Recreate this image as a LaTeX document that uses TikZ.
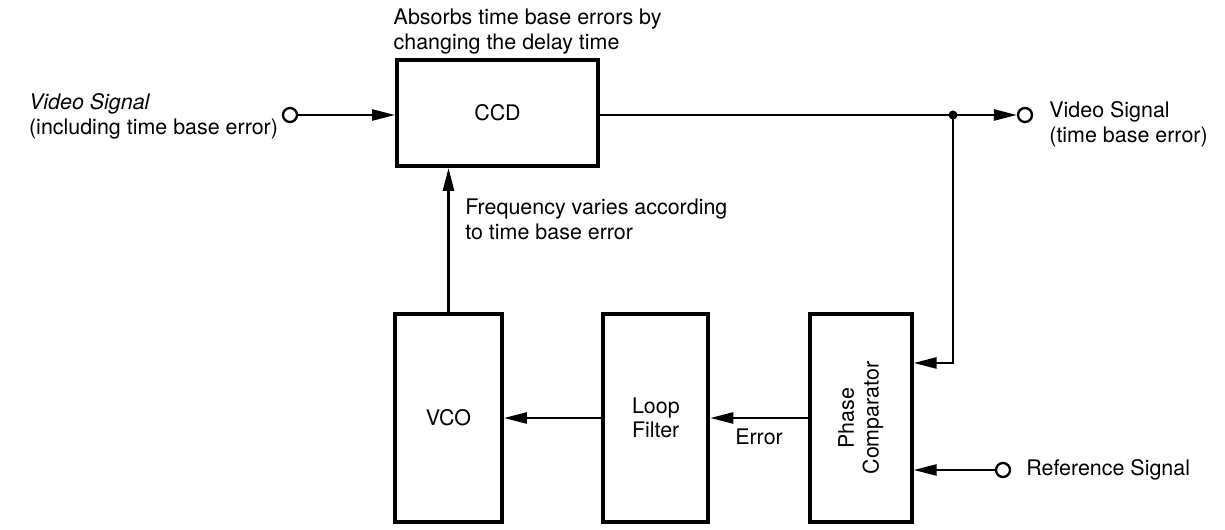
\documentclass[tikz,border=0pt]{standalone}
\usepackage{fontspec}
\setmainfont{TeX Gyre Heros}
\usepackage{tikz}
\usetikzlibrary{arrows.meta,positioning}

\begin{document}
\begin{tikzpicture}[
node distance=8mm and 1.95cm,
every node/.style={font=\fontsize{12.2}{14}\selectfont},
box/.style={draw, line width=2.2pt, minimum width=2.1cm, minimum height=4.16cm, inner sep=0pt},
port/.style={draw, circle, line width=1.3pt, minimum size=0.28cm, inner sep=0pt},
arrow/.style={-{Triangle[length=4.6mm, width=2.2mm]}, line width=1.4pt},
wire/.style={line width=1.4pt}
]
\useasboundingbox (0,0) rectangle (24.5,10.6);
\node[box, minimum width=4.02cm, minimum height=2.12cm] (ccd) at (9.95,8.34) {CCD};
\node[box, minimum width=2.14cm] (vco) at (8.97,2.24) {VCO};
\node[box, right=of vco, align=left] (lf) {Loop\\Filter};
\node[box, right=of lf, minimum width=2.04cm] (pc) {};
\node[rotate=90, align=center] (pclabel) at (pc.center) {Phase\\Comparator};
\node[port] (vin) at (5.8,8.3) {};
\node[port] (vout) at (20.5,8.3) {};
\node[port] (ref) at (20.06,1.2) {};
\coordinate (tap) at (19.06,8.3);
\fill (tap) circle (0.09);
% labels
\node[anchor=south west, align=left, inner sep=1pt] (note1) at ([xshift=-2pt, yshift=1pt]ccd.north west) {Absorbs time base errors by\\changing the delay time};
\node[anchor=north west, align=left, inner sep=0pt] (note2) at (9.3,6.62) {Frequency varies according\\to time base error};
\node[anchor=east, align=left, inner sep=2pt] (inlabel) at ([yshift=-0.03cm]vin.west) {\itshape Video Signal\\(including time base error)};
\node[anchor=west, align=left, xshift=0.2cm, yshift=-0.18cm] (outlabel) at (vout.east) {Video Signal\\(time base error)};
\node[anchor=west, xshift=0.18cm] (reflabel) at (ref.east) {Reference Signal};
% connectors
\draw[arrow] (vin) -- (vin -| ccd.west);
\draw[wire] (ccd.east |- vin) -- (tap);
\draw[arrow] (tap) -- (vout);
\draw[arrow] (tap) |- ([yshift=1.1cm]pc.east);
\draw[arrow] (ref) -- (ref -| pc.east);
\draw[arrow] (pc.west |- lf.east) -- node[below=2pt] (err) {Error} (lf.east);
\draw[arrow] (lf.west) -- (vco.east);
\draw[arrow] (vco.north) -- (vco.north |- ccd.south);
\end{tikzpicture}
\end{document}
